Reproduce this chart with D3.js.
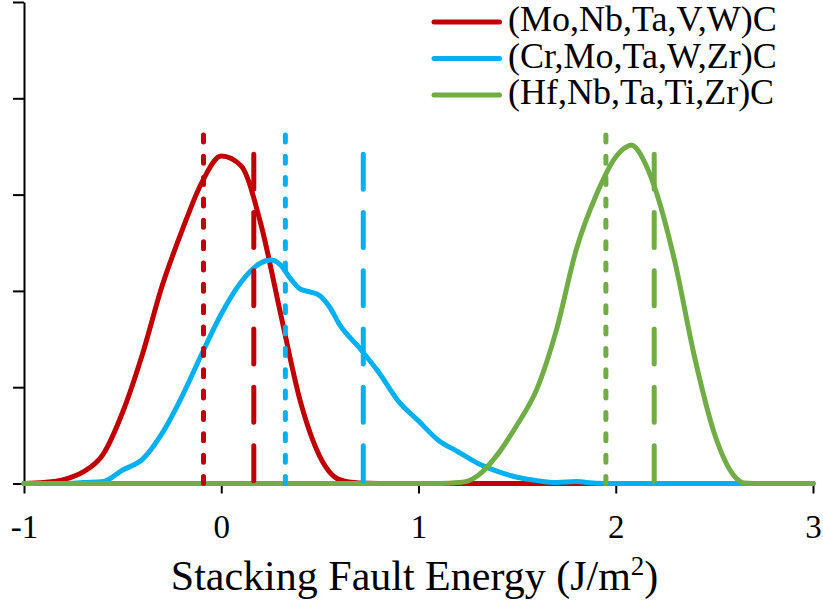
<!DOCTYPE html>
<html>
<head>
<meta charset="utf-8">
<script src="https://cdn.jsdelivr.net/npm/d3@7/dist/d3.min.js"></script>
<style>
  html, body { margin: 0; padding: 0; background: #fff; }
  svg { display: block; }
</style>
</head>
<body>
<svg id="chart" width="823" height="605"></svg>
<script>
// Stacking fault energy distributions of three high-entropy carbides
const seriesNames = ["(Mo,Nb,Ta,V,W)C", "(Cr,Mo,Ta,W,Zr)C", "(Hf,Nb,Ta,Ti,Zr)C"];
const seriesColors = ["#C00000", "#00B0F0", "#70AD47"];

// (Mo,Nb,Ta,V,W)C density
const moX = [-1, -0.9, -0.8, -0.7, -0.6, -0.5, -0.4, -0.3, -0.2, -0.1, 0, 0.1, 0.2, 0.3, 0.4, 0.5, 0.6, 0.7, 0.8, 1.5, 2, 3];
const moY = [0, 0.01, 0.04, 0.12, 0.30, 0.74, 1.34, 2.05, 2.62, 3.12, 3.40, 3.30, 2.70, 1.77, 0.86, 0.28, 0.04, 0.005, 0, 0, 0, 0];

// (Cr,Mo,Ta,W,Zr)C density
const crX = [-1, -0.8, -0.7, -0.6, -0.5, -0.4, -0.3, -0.2, -0.1, 0, 0.1, 0.2, 0.25, 0.3, 0.35, 0.4, 0.45, 0.5, 0.55, 0.6, 0.7, 0.8, 0.9, 1.0, 1.1, 1.2, 1.3, 1.4, 1.5, 1.6, 1.7, 1.8, 1.9, 2.0, 3];
const crY = [0, 0, 0.01, 0.02, 0.14, 0.25, 0.52, 0.90, 1.34, 1.76, 2.09, 2.29, 2.32, 2.27, 2.13, 2.02, 1.99, 1.95, 1.83, 1.65, 1.41, 1.15, 0.85, 0.65, 0.45, 0.33, 0.21, 0.125, 0.065, 0.03, 0.01, 0.02, 0.003, 0, 0];

// (Hf,Nb,Ta,Ti,Zr)C density
const hfX = [-1, 1.1, 1.2, 1.25, 1.3, 1.4, 1.5, 1.6, 1.7, 1.8, 1.9, 2.0, 2.05, 2.08, 2.1, 2.15, 2.2, 2.3, 2.4, 2.5, 2.6, 2.65, 2.7, 3];
const hfY = [0, 0, 0.01, 0.025, 0.08, 0.30, 0.61, 0.98, 1.60, 2.43, 2.99, 3.39, 3.49, 3.515, 3.49, 3.32, 3.06, 2.30, 1.31, 0.52, 0.08, 0.005, 0, 0];

// vertical markers: short-dash and long-dash position per material
const shortMarkers = [-0.09, 0.325, 1.95];
const longMarkers = [0.165, 0.72, 2.195];
const shortMarkerTop = 3.62;
const longMarkerTop = 3.42;

const xTicks = [-1, 0, 1, 2, 3];
const yTicks = [0, 1, 2, 3, 4, 5];

const FONT = "'Liberation Serif', 'Times New Roman', Times, serif";

const svg = d3.select("#chart");
const x = d3.scaleLinear().domain([-1, 3]).range([24, 813]);
const y = d3.scaleLinear().domain([0, 5]).range([483.5, 2]);

// axes
const yAxis = svg.append("g")
  .attr("transform", `translate(${x(-1)},0)`)
  .call(d3.axisLeft(y).tickValues(yTicks).tickFormat("").tickSizeInner(11).tickSizeOuter(0));
const xAxis = svg.append("g")
  .attr("transform", `translate(0,${y(0)})`)
  .call(d3.axisBottom(x).tickValues(xTicks).tickFormat(d3.format("d")).tickSizeInner(10).tickSizeOuter(0).tickPadding(21));
[yAxis, xAxis].forEach(g => {
  g.select(".domain").attr("stroke", "#000").attr("stroke-width", 2);
  g.selectAll(".tick line").attr("stroke", "#000").attr("stroke-width", 2);
});
xAxis.selectAll(".tick text")
  .style("font-family", FONT)
  .style("font-size", "33px")
  .attr("fill", "#000")
  .text(d => d < 0 ? "-" + Math.abs(d) : String(d));

// axis title
const title = svg.append("text")
  .attr("x", x(0.98))
  .attr("y", 590)
  .attr("text-anchor", "middle")
  .style("font-family", FONT)
  .style("font-size", "42px")
  .attr("fill", "#000");
title.append("tspan").text("Stacking Fault Energy (J/m");
title.append("tspan").style("font-size", "27px").attr("dy", -15).text("2");
title.append("tspan").attr("dy", 15).text(")");

// density curves
const seriesData = [
  moX.map((v, i) => [v, moY[i]]),
  crX.map((v, i) => [v, crY[i]]),
  hfX.map((v, i) => [v, hfY[i]])
];
const line = d3.line().x(d => x(d[0])).y(d => y(d[1])).curve(d3.curveMonotoneX);
svg.append("g").selectAll("path")
  .data(seriesData)
  .join("path")
  .attr("d", line)
  .attr("fill", "none")
  .attr("stroke", (d, i) => seriesColors[i])
  .attr("stroke-width", 5)
  .attr("stroke-linejoin", "round")
  .attr("stroke-linecap", "round");

// markers
const markers = svg.append("g");
markers.selectAll("line.short")
  .data(shortMarkers)
  .join("line")
  .attr("class", "short")
  .attr("x1", d => x(d)).attr("x2", d => x(d))
  .attr("y1", y(shortMarkerTop)).attr("y2", y(0))
  .attr("stroke", (d, i) => seriesColors[i])
  .attr("stroke-width", 5)
  .attr("stroke-linecap", "round")
  .attr("stroke-dasharray", "7,14.35");
markers.selectAll("line.long")
  .data(longMarkers)
  .join("line")
  .attr("class", "long")
  .attr("x1", d => x(d)).attr("x2", d => x(d))
  .attr("y1", y(longMarkerTop)).attr("y2", y(0))
  .attr("stroke", (d, i) => seriesColors[i])
  .attr("stroke-width", 5)
  .attr("stroke-linecap", "round")
  .attr("stroke-dasharray", "35,23.3");

// legend
const legend = svg.append("g");
const rows = legend.selectAll("g")
  .data(seriesNames)
  .join("g")
  .attr("transform", (d, i) => `translate(0,${31 + i * 36.5})`);
rows.append("line")
  .attr("x1", 434).attr("x2", 499.5)
  .attr("y1", -9).attr("y2", -9)
  .attr("stroke", (d, i) => seriesColors[i])
  .attr("stroke-width", 5)
  .attr("stroke-linecap", "round");
rows.append("text")
  .attr("x", 508)
  .attr("y", 0)
  .style("font-family", FONT)
  .style("font-size", "36px")
  .attr("fill", "#000")
  .text(d => d);
</script>
</body>
</html>
